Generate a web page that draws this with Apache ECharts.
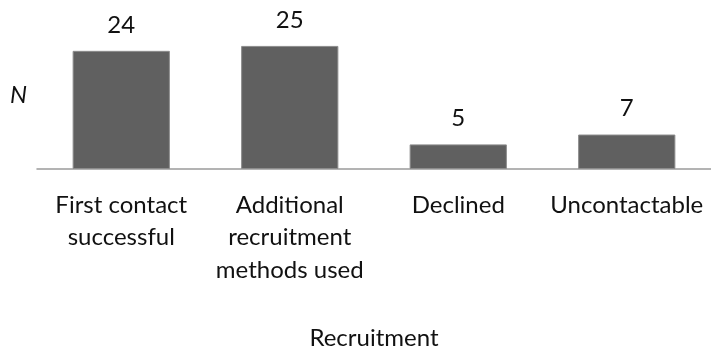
<!DOCTYPE html>
<html>
<head>
<meta charset="utf-8">
<style>
  html, body { margin: 0; padding: 0; background: #ffffff; }
  #chart { width: 711px; height: 354px; }
</style>
<script src="https://cdn.jsdelivr.net/npm/echarts@6/dist/echarts.min.js"></script>
</head>
<body>
<div id="chart"></div>
<script>
// Recruitment outcomes (counts)
const categories = [
  'First contact\nsuccessful',
  'Additional\nrecruitment\nmethods used',
  'Declined',
  'Uncontactable'
];
const counts = [24, 25, 5, 7];
const xAxisTitle = 'Recruitment';
const yAxisTitle = 'N';

const FONT = 'Lato, "Open Sans", sans-serif';

const chart = echarts.init(document.getElementById('chart'), null, { renderer: 'canvas' });

chart.setOption({
  backgroundColor: '#ffffff',
  animation: false,
  grid: { left: 37, right: -2, top: 21.3, height: 148.2, containLabel: false },
  xAxis: {
    type: 'category',
    data: categories,
    name: xAxisTitle,
    nameLocation: 'middle',
    nameGap: 154,
    nameTextStyle: { fontFamily: FONT, fontSize: 24, color: '#111111', lineHeight: 30 },
    axisLine: { show: true, lineStyle: { color: '#9a9a9a', width: 1.5 } },
    axisTick: { show: false },
    axisLabel: {
      interval: 0,
      margin: 20,
      fontFamily: FONT,
      fontSize: 24,
      lineHeight: 32.5,
      color: '#111111'
    }
  },
  yAxis: {
    type: 'value',
    min: 0,
    max: 30,
    name: yAxisTitle,
    nameLocation: 'middle',
    nameRotate: 0,
    nameGap: 10,
    nameTextStyle: { fontFamily: FONT, fontSize: 24, fontStyle: 'italic', color: '#111111' },
    axisLine: { show: false },
    axisTick: { show: false },
    axisLabel: { show: false },
    splitLine: { show: false }
  },
  series: [{
    type: 'bar',
    data: counts,
    barWidth: '57.7%',
    itemStyle: { color: '#606060', borderColor: '#8c8c8c', borderWidth: 1 },
    label: {
      show: true,
      position: 'top',
      distance: 14,
      fontFamily: FONT,
      fontSize: 24,
      color: '#111111'
    }
  }]
});
</script>
</body>
</html>
